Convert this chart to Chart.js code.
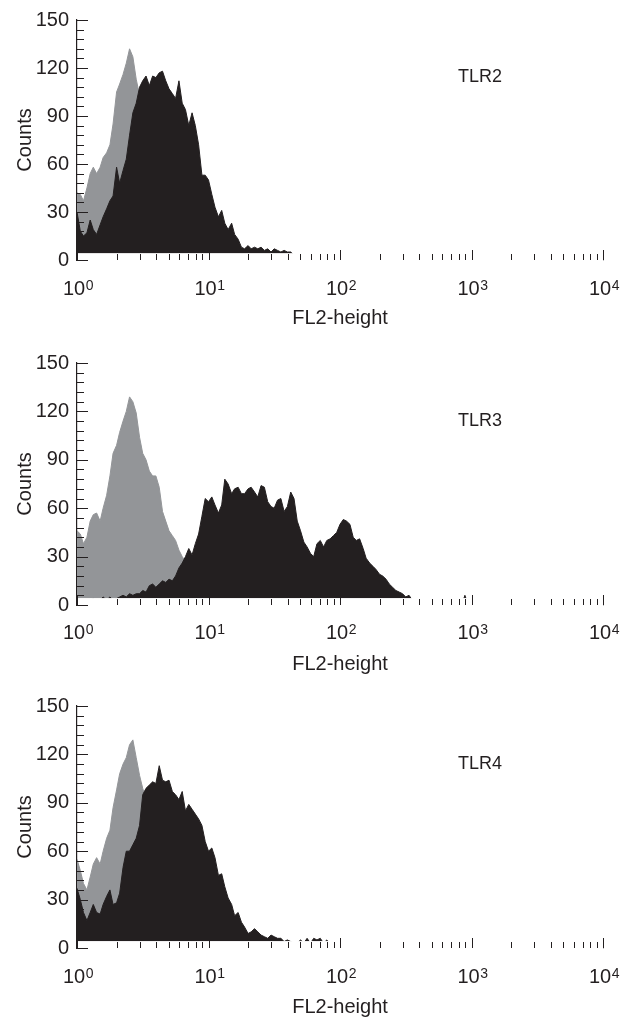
<!DOCTYPE html>
<html>
<head>
<meta charset="utf-8">
<title>TLR2 / TLR3 / TLR4 - FL2-height</title>
<script src="https://cdn.jsdelivr.net/npm/chart.js@4.4.1/dist/chart.umd.min.js"></script>
<style>
  html, body { margin: 0; padding: 0; background: #fff; }
  .panel { position: absolute; left: 0; width: 629px; }
  canvas { display: block; }
</style>
</head>
<body>
<div class="panel" style="top:0"><canvas id="tlr2Chart" width="629" height="340"></canvas></div>
<div class="panel" style="top:340px"><canvas id="tlr3Chart" width="629" height="340"></canvas></div>
<div class="panel" style="top:680px"><canvas id="tlr4Chart" width="629" height="339"></canvas></div>
<script>
// FL2-height channels, 40 per decade
const fl2Height = [
  1.00, 1.06, 1.12, 1.19, 1.26, 1.33, 1.41, 1.50, 1.58, 1.68, 1.78, 1.88, 2.00, 2.11, 2.24, 2.37, 2.51, 2.66, 2.82, 2.99,
  3.16, 3.35, 3.55, 3.76, 3.98, 4.22, 4.47, 4.73, 5.01, 5.31, 5.62, 5.96, 6.31, 6.68, 7.08, 7.50, 7.94, 8.41, 8.91, 9.44,
  10.0, 10.6, 11.2, 11.9, 12.6, 13.3, 14.1, 15.0, 15.8, 16.8, 17.8, 18.8, 20.0, 21.1, 22.4, 23.7, 25.1, 26.6, 28.2, 29.9,
  31.6, 33.5, 35.5, 37.6, 39.8, 42.2, 44.7, 47.3, 50.1, 53.1, 56.2, 59.6, 63.1, 66.8, 70.8, 75.0, 79.4, 84.1, 89.1, 94.4,
  100, 106, 112, 119, 126, 133, 141, 150, 158, 168, 178, 188, 200, 211, 224, 237, 251, 266, 282, 299,
  316, 335, 355, 376, 398, 422, 447, 473, 501, 531, 562, 596, 631, 668, 708, 750, 794, 841, 891, 944
];

// counts per channel (black = TLR stain, gray = control)
const tlr2Counts = [
  30, 18, 15, 17, 25, 19, 16, 22, 27, 32, 37, 40, 58, 48, 56, 63, 78, 92, 98, 108,
  112, 115, 109, 115, 114, 117, 118, 112, 107, 104, 101, 112, 98, 94, 84, 92, 84, 72, 53, 53,
  50, 41, 33, 27, 31, 23, 19, 23, 16, 13, 8, 7, 9, 7, 8, 7, 8, 6, 7, 5,
  7, 6, 5, 6, 5, 5, 3, 0
];
const tlr2Control = [
  42, 41, 37, 45, 54, 58, 54, 58, 64, 67, 72, 85, 105, 110, 116, 123, 132, 127, 113, 103,
  95, 88, 80, 72, 64, 56, 48, 42, 36, 30, 25, 20, 16, 12, 9, 7, 5, 4, 3, 2, 1
];
const tlr3Counts = [
  0, 0, 2, 0, 3, 4, 2, 3, 5, 3, 5, 3, 4, 5, 6, 5, 7, 6, 7, 7,
  9, 8, 12, 13, 11, 13, 15, 14, 16, 15, 18, 23, 26, 30, 35, 31, 38, 44, 55, 66,
  64, 67, 62, 57, 62, 78, 75, 69, 72, 73, 69, 69, 72, 73, 70, 67, 74, 73, 64, 61,
  60, 65, 66, 58, 61, 70, 66, 52, 46, 39, 36, 32, 30, 38, 40, 36, 40, 41, 43, 45,
  50, 53, 52, 50, 42, 40, 41, 35, 29, 26, 24, 22, 19, 18, 16, 13, 11, 9, 8, 7,
  5, 6, 3, 0, 0, 0, 0, 0, 0, 0, 0, 0, 0, 0, 0, 0, 0, 0, 6, 0
];
const tlr3Control = [
  46, 44, 38, 42, 52, 56, 57, 52, 60, 68, 80, 94, 99, 107, 114, 120, 129, 126, 119, 104,
  94, 90, 83, 80, 80, 73, 58, 52, 46, 43, 40, 34, 30, 27, 22, 18, 14, 10, 7, 5,
  3, 2, 0
];
const tlr4Counts = [
  37, 30, 22, 17, 22, 27, 22, 21, 27, 32, 36, 27, 28, 34, 50, 60, 60, 64, 68, 76,
  95, 99, 101, 103, 102, 113, 104, 103, 104, 97, 95, 92, 97, 85, 89, 86, 83, 80, 76, 66,
  60, 62, 56, 45, 46, 38, 31, 27, 20, 22, 16, 13, 9, 10, 12, 10, 8, 7, 6, 8,
  7, 6, 6, 4, 5, 4, 3, 3, 5, 3, 6, 3, 6, 5, 6, 3, 5, 2, 0
];
const tlr4Control = [
  55, 48, 40, 36, 44, 52, 56, 52, 60, 68, 73, 87, 98, 108, 114, 118, 126, 129, 118, 107,
  99, 92, 85, 77, 70, 62, 55, 48, 42, 36, 30, 25, 20, 16, 12, 9, 7, 5, 4, 3, 2
];

const countTicks = [0, 30, 60, 90, 120, 150];
const decadeTicks = [1, 10, 100, 1000, 10000];

const ink = '#231f20';
const fam = "'Liberation Sans', Arial, Helvetica, sans-serif";
Chart.defaults.font.family = fam;
Chart.defaults.color = ink;

// white strip above the x axis with the ticks pointing inward, like the cytometer print
const fcsAxes = {
  id: 'fcsAxes',
  afterDatasetsDraw(chart) {
    const {ctx, chartArea: a, scales: {y}} = chart;
    const top = y.getPixelForValue(4.3);
    ctx.save();
    ctx.fillStyle = '#fff';
    ctx.fillRect(a.left, top, a.right - a.left, a.bottom - top + 1);
    ctx.restore();
  },
  afterDraw(chart, args, opts) {
    const {ctx, chartArea: a, scales: {x, y}} = chart;
    ctx.save();
    ctx.strokeStyle = ink;
    ctx.lineWidth = 1;
    ctx.beginPath();
    decadeTicks.forEach(d => {
      for (let m = 1; m < 10; m++) {
        if (d * m > 10000) break;
        const px = Math.round(x.getPixelForValue(d * m)) + 0.5;
        ctx.moveTo(px, a.bottom);
        ctx.lineTo(px, a.bottom - (m === 1 ? 10 : 6));
      }
    });
    for (let c = 0; c <= 150; c += 6) {
      const py = Math.round(y.getPixelForValue(c)) + 0.5;
      ctx.moveTo(a.left, py);
      ctx.lineTo(a.left + (c % 30 === 0 ? 11 : 7), py);
    }
    ctx.stroke();

    // decade labels 10^k
    ctx.fillStyle = ink;
    ctx.textAlign = 'left';
    ctx.textBaseline = 'alphabetic';
    const base = a.bottom + opts.labelDrop;
    decadeTicks.forEach(d => {
      const k = String(Math.round(Math.log10(d)));
      ctx.font = '20px ' + fam;
      const w1 = ctx.measureText('10').width;
      ctx.font = '14px ' + fam;
      const w2 = ctx.measureText(k).width;
      const left = x.getPixelForValue(d) - (w1 + w2) / 2 + 1;
      ctx.font = '20px ' + fam;
      ctx.fillText('10', left, base);
      ctx.font = '14px ' + fam;
      ctx.fillText(k, left + w1 + 0.5, base - 5.5);
    });

    // panel name
    ctx.font = '18px ' + fam;
    ctx.fillText(opts.label, x.getPixelForValue(790), y.getPixelForValue(111));
    ctx.restore();
  }
};

function histogram(id, stain, control, name, lay) {
  const pts = arr => arr.map((c, i) => ({x: fl2Height[i], y: c}));
  return new Chart(document.getElementById(id), {
    type: 'line',
    data: {
      datasets: [{
        label: name,
        data: pts(stain),
        borderColor: ink,
        backgroundColor: ink,
        borderWidth: 1,
        pointRadius: 0,
        tension: 0,
        fill: 'origin'
      }, {
        label: 'Control',
        data: pts(control),
        borderColor: '#939598',
        backgroundColor: '#939598',
        borderWidth: 1,
        pointRadius: 0,
        tension: 0,
        fill: 'origin'
      }]
    },
    options: {
      responsive: false,
      animation: false,
      layout: { padding: { top: lay.top, right: 26, left: 0, bottom: 0 } },
      plugins: {
        legend: { display: false },
        tooltip: { enabled: false },
        fcsAxes: { label: name, labelDrop: lay.labelDrop }
      },
      scales: {
        x: {
          type: 'logarithmic',
          min: 1,
          max: 10000,
          z: 1,
          afterFit: s => { s.height = lay.axisHeight; },
          grid: { drawOnChartArea: false, drawTicks: false },
          border: { display: true, color: ink, width: 1.2 },
          ticks: { display: false },
          title: { display: true, text: 'FL2-height', font: { size: 20 }, padding: { top: 0, bottom: lay.titlePad } }
        },
        y: {
          min: 0,
          max: 150,
          z: 1,
          afterFit: s => { s.width = 77; },
          afterBuildTicks: s => { s.ticks = countTicks.map(v => ({value: v})); },
          grid: { drawOnChartArea: false, drawTicks: false },
          border: { display: true, color: ink, width: 1.2 },
          ticks: { font: { size: 20 }, padding: 8 },
          title: { display: true, text: 'Counts', font: { size: 20 }, padding: { top: 13, bottom: 0 } }
        }
      }
    },
    plugins: [fcsAxes]
  });
}

histogram('tlr2Chart', tlr2Counts, tlr2Control, 'TLR2', { top: 18, axisHeight: 80, titlePad: 10, labelDrop: 35 });
histogram('tlr3Chart', tlr3Counts, tlr3Control, 'TLR3', { top: 23, axisHeight: 75, titlePad: 4, labelDrop: 34 });
histogram('tlr4Chart', tlr4Counts, tlr4Control, 'TLR4', { top: 26, axisHeight: 71, titlePad: 0, labelDrop: 35 });
</script>
</body>
</html>
